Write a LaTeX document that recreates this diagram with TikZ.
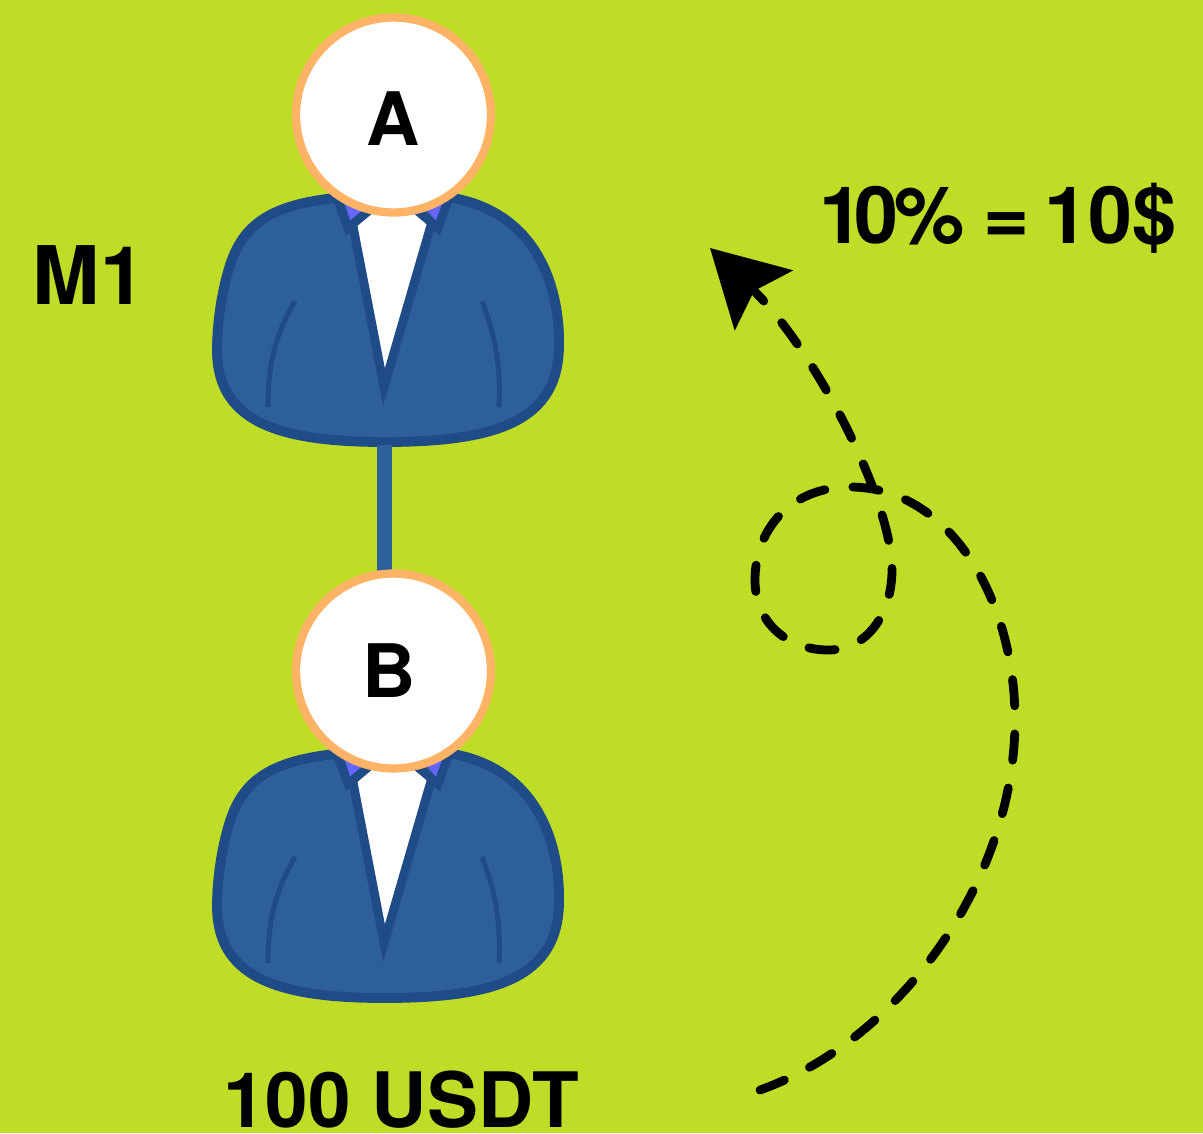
\documentclass[tikz,border=0pt]{standalone}
\usepackage{fontspec}
\setmainfont{TeX Gyre Heros}
\usetikzlibrary{arrows.meta}
\definecolor{limebg}{HTML}{BFDC27}
\definecolor{suitfill}{HTML}{2D5F99}
\definecolor{suitline}{HTML}{1F4B87}
\definecolor{headline}{HTML}{FFB366}
\definecolor{collarfill}{HTML}{6666FF}
\tikzset{
  head/.style={circle, draw=headline, fill=white, line width=4.7pt, minimum size=3.9cm, inner sep=0pt, font=\bfseries\fontsize{42}{42}\selectfont},
  tag/.style={inner sep=0pt, font=\bfseries\fontsize{45}{45}\selectfont},
  suit/.style={draw=suitline, fill=suitfill, line width=5.6pt},
  lapel/.style={draw=suitline, line width=5pt, miter limit=12},
  pocket/.style={draw=suitline, line width=2.8pt},
  person/.pic={
    \path[suit] (335,198) .. controls (270,205) and (243,225) .. (230,265)
      .. controls (222,290) and (217,322) .. (217,350)
      .. controls (217,420) and (275,442) .. (384,442)
      .. controls (495,442) and (559,422) .. (559,345)
      .. controls (560,300) and (545,215) .. (453,198) -- cycle;
    \fill[white] (370,205) -- (418,205) -- (428,225) -- (385,375) -- (356,226) -- cycle;
    \fill[collarfill] (344,200) -- (351,223) -- (362,211) -- cycle;
    \fill[collarfill] (428,211) -- (437,222) -- (443,200) -- cycle;
    \draw[lapel] (337,198) -- (348,228) -- (372,208);
    \draw[lapel] (449,198) -- (438,228) -- (414,208);
    \draw[lapel] (353,226) -- (384,387) -- (431,225);
    \draw[pocket] (268,407) .. controls (268,365) and (275,335) .. (295,301);
    \draw[pocket] (499,407) .. controls (501,365) and (495,335) .. (482,301);
    \coordinate (-foot) at (384.5,445);
  },
}
\begin{document}
\begin{tikzpicture}[x=0.02cm, y=-0.02cm]
  \fill[limebg] (0,0) rectangle (1203,1133);
  \useasboundingbox (0,0) rectangle (1203,1133);

  \pic (bodya) at (0,0) {person};
  \pic (bodyb) at (0,556) {person};

  \coordinate (neckb) at (384.5,575);
  \draw[suitfill, line width=8pt] (bodya-foot) -- (neckb);

  \node[head, text height=34.6pt] (heada) at (393.5,115) {A};
  \node[head] (headb) at (393.5,671) {\hspace{-5pt}B};

  \node[tag, font=\bfseries\fontsize{46}{46}\selectfont] (level) at (89,275.5) {M1};
  \node[tag, font=\bfseries\fontsize{43.5}{43.5}\selectfont] (amount) at (401,1100) {100 USDT};
  \node[tag] (reward) at (998,218) {1\kern-5pt 0\kern-2pt\%\kern-2pt\ =\kern-4pt\ 10\$};

  \coordinate (start) at (760,1090);
  \coordinate (end) at (710,248);
  \draw[line width=5pt, line cap=round, dash pattern=on 15pt off 16pt,
        -{Stealth[length=42.5pt, width=47pt, inset=7.5pt]}]
    (start) .. controls (900,1040) and (1015,880) .. (1015,720)
    .. controls (1015,600) and (950,487) .. (850,487)
    .. controls (790,487) and (755,530) .. (755,580)
    .. controls (755,625) and (790,650) .. (828,650)
    .. controls (870,650) and (892,610) .. (892,570)
    .. controls (892,500) and (815,350) .. (end);
\end{tikzpicture}
\end{document}
